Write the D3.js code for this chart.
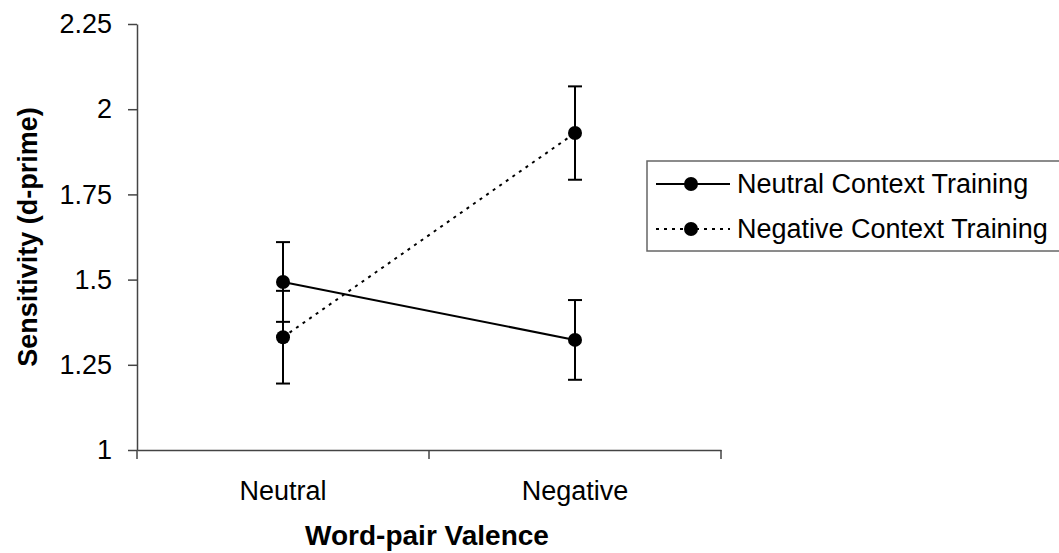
<!DOCTYPE html>
<html>
<head>
<meta charset="utf-8">
<script src="https://cdn.jsdelivr.net/npm/d3@7"></script>
<style>
  body { margin: 0; background: #fff; }
  text { font-family: "Liberation Sans", Arial, sans-serif; fill: #000; }
</style>
</head>
<body>
<div id="chart"></div>
<script>
// data
const categories = ["Neutral", "Negative"];
const seriesNames = ["Neutral Context Training", "Negative Context Training"];
const neutralContext = [1.493, 1.323];
const neutralContextErr = [0.117, 0.117];
const negativeContext = [1.331, 1.930];
const negativeContextErr = [0.136, 0.137];
const yTicks = [1, 1.25, 1.5, 1.75, 2, 2.25];
const yTickLabels = ["1", "1.25", "1.5", "1.75", "2", "2.25"];

const width = 1059, height = 553;

const svg = d3.select("#chart").append("svg")
    .attr("width", width)
    .attr("height", height);

const x = d3.scaleBand()
    .domain(categories)
    .range([137, 721])
    .padding(0);

const y = d3.scaleLinear()
    .domain([1, 2.25])
    .range([450, 24]);

const axisColor = "#444";

// y axis
const yAxis = svg.append("g")
    .attr("transform", "translate(137,0)")
    .call(d3.axisLeft(y)
        .tickValues(yTicks)
        .tickSize(9)
        .tickSizeOuter(0)
        .tickPadding(16)
        .tickFormat((d, i) => yTickLabels[i]));
yAxis.select(".domain").attr("stroke", axisColor).attr("stroke-width", 1.5);
yAxis.selectAll(".tick line").attr("stroke", axisColor).attr("stroke-width", 1.5);
yAxis.selectAll(".tick text")
    .attr("font-size", 27)
    .attr("font-family", "Liberation Sans, Arial, sans-serif")
    .attr("fill", "#000");

// x axis: labels in band centres, tick marks at band edges
const xAxis = svg.append("g")
    .attr("transform", "translate(0,450)")
    .call(d3.axisBottom(x).tickSize(0).tickSizeOuter(0).tickPadding(31));
xAxis.select(".domain").attr("stroke", axisColor).attr("stroke-width", 1.5);
xAxis.selectAll(".tick text")
    .attr("font-size", 27)
    .attr("font-family", "Liberation Sans, Arial, sans-serif")
    .attr("fill", "#000");

const edges = [x.range()[0]].concat(categories.map(c => x(c) + x.bandwidth()));
svg.append("g").selectAll("line")
    .data(edges)
    .join("line")
    .attr("x1", d => d).attr("x2", d => d)
    .attr("y1", 450).attr("y2", 459)
    .attr("stroke", axisColor)
    .attr("stroke-width", 1.5);

// axis titles
svg.append("text")
    .attr("transform", `translate(37, ${(y(1) + y(2.25)) / 2}) rotate(-90)`)
    .attr("text-anchor", "middle")
    .attr("font-size", 27)
    .attr("font-weight", "bold")
    .text("Sensitivity (d-prime)");

svg.append("text")
    .attr("x", (x.range()[0] + x.range()[1]) / 2 - 2)
    .attr("y", 545)
    .attr("text-anchor", "middle")
    .attr("font-size", 28)
    .attr("font-weight", "bold")
    .text("Word-pair Valence");

// series
const series = [
    { name: seriesNames[0], values: neutralContext, err: neutralContextErr, dash: null },
    { name: seriesNames[1], values: negativeContext, err: negativeContextErr, dash: "3,5" }
];

const cx = c => x(c) + x.bandwidth() / 2;

const line = d3.line()
    .x((d, i) => cx(categories[i]))
    .y(d => y(d));

series.forEach(s => {
    const g = svg.append("g");

    g.append("path")
        .datum(s.values)
        .attr("d", line)
        .attr("fill", "none")
        .attr("stroke", "#000")
        .attr("stroke-width", 2)
        .attr("stroke-dasharray", s.dash);

    const pts = s.values.map((v, i) => ({ cat: categories[i], v: v, e: s.err[i] }));

    // error bars
    g.selectAll(".err")
        .data(pts)
        .join("line")
        .attr("class", "err")
        .attr("x1", d => cx(d.cat)).attr("x2", d => cx(d.cat))
        .attr("y1", d => y(d.v + d.e)).attr("y2", d => y(d.v - d.e))
        .attr("stroke", "#000").attr("stroke-width", 2);

    ["top", "bottom"].forEach(end => {
        g.selectAll(".cap-" + end)
            .data(pts)
            .join("line")
            .attr("class", "cap-" + end)
            .attr("x1", d => cx(d.cat) - 7).attr("x2", d => cx(d.cat) + 7)
            .attr("y1", d => y(end === "top" ? d.v + d.e : d.v - d.e))
            .attr("y2", d => y(end === "top" ? d.v + d.e : d.v - d.e))
            .attr("stroke", "#000").attr("stroke-width", 2);
    });

    g.selectAll("circle")
        .data(pts)
        .join("circle")
        .attr("cx", d => cx(d.cat))
        .attr("cy", d => y(d.v))
        .attr("r", 7)
        .attr("fill", "#000");
});

// legend
const legend = svg.append("g");
legend.append("rect")
    .attr("x", 647).attr("y", 161)
    .attr("width", 430).attr("height", 90)
    .attr("fill", "#fff")
    .attr("stroke", "#666")
    .attr("stroke-width", 1.5);

series.forEach((s, i) => {
    const ly = 184 + i * 45;
    legend.append("line")
        .attr("x1", 656).attr("x2", 730)
        .attr("y1", ly).attr("y2", ly)
        .attr("stroke", "#000").attr("stroke-width", 2)
        .attr("stroke-dasharray", s.dash);
    legend.append("circle")
        .attr("cx", 691).attr("cy", ly)
        .attr("r", 7).attr("fill", "#000");
    legend.append("text")
        .attr("x", 737).attr("y", ly)
        .attr("dy", "0.35em")
        .attr("font-size", 27)
        .text(s.name);
});
</script>
</body>
</html>
